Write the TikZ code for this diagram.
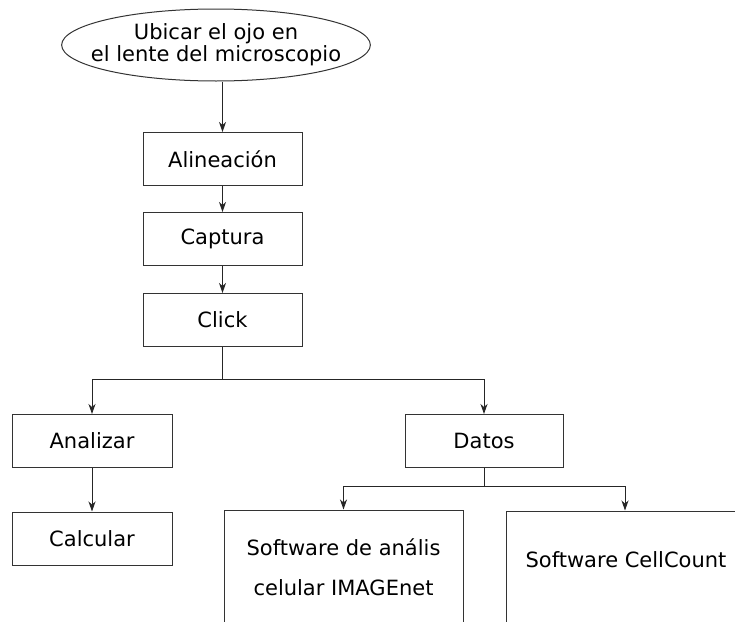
\documentclass[tikz,border=0pt]{standalone}
\usepackage{fontspec}
\setmainfont{DejaVu Sans}
\usetikzlibrary{shapes.geometric,arrows.meta}
\begin{document}
\begin{tikzpicture}[x=1pt,y=-1pt,
  every node/.style={font=\fontsize{21}{22}\selectfont, text=black},
  box/.style={draw=black!80, line width=1pt, rectangle, inner sep=0pt,
              minimum width=159pt, minimum height=53pt},
  conn/.style={draw=black!85, line width=1pt},
  arr/.style={conn, -{Stealth[length=10pt,width=7pt,inset=3pt]}}
]
\useasboundingbox (0,0) rectangle (735,621);
\clip (0,0) rectangle (735,621);

% process steps
\node[ellipse, draw=black!80, line width=1pt, inner xsep=-16pt, inner ysep=3pt,
      minimum width=308pt, minimum height=72pt, align=center] (start) at (216,45)
      {Ubicar el ojo en\\el lente del microscopio};
\node[box] (ali) at (222.5,159) {Alineación};
\node[box] (cap) at (222.5,239) {Captura};
\node[box] (clk) at (222.5,320) {Click};
\node[box, minimum width=160pt] (ana) at (92,441) {Analizar};
\node[box, minimum width=160pt] (calc) at (92,538.5) {Calcular};
\node[box, minimum width=158pt] (dat) at (484,441) {Datos};
\node[box, minimum width=239pt, minimum height=114pt, align=center,
      font=\fontsize{21}{40}\selectfont] (sw1) at (343.5,567)
      {Software de anális\\celular IMAGEnet};
\node[box, minimum width=238pt, minimum height=114pt] (sw2) at (625,568) {};
\node (sw2t) at (626,560) {Software CellCount};

% branching points
\coordinate (split1) at (222.5,379);
\coordinate (split2) at (484,486);

% connectors
\draw[arr] (start.south -| ali.north) -- (ali.north);
\draw[arr] (ali) -- (cap);
\draw[arr] (cap) -- (clk);
\draw[conn] (clk.south) -- (split1);
\draw[arr] (split1) -| (ana.north);
\draw[arr] (split1) -| (dat.north);
\draw[arr] (ana) -- (calc);
\draw[conn] (dat.south) -- (split2);
\draw[arr] (split2) -| (sw1.north);
\draw[arr] (split2) -| (sw2.north);
\end{tikzpicture}
\end{document}
